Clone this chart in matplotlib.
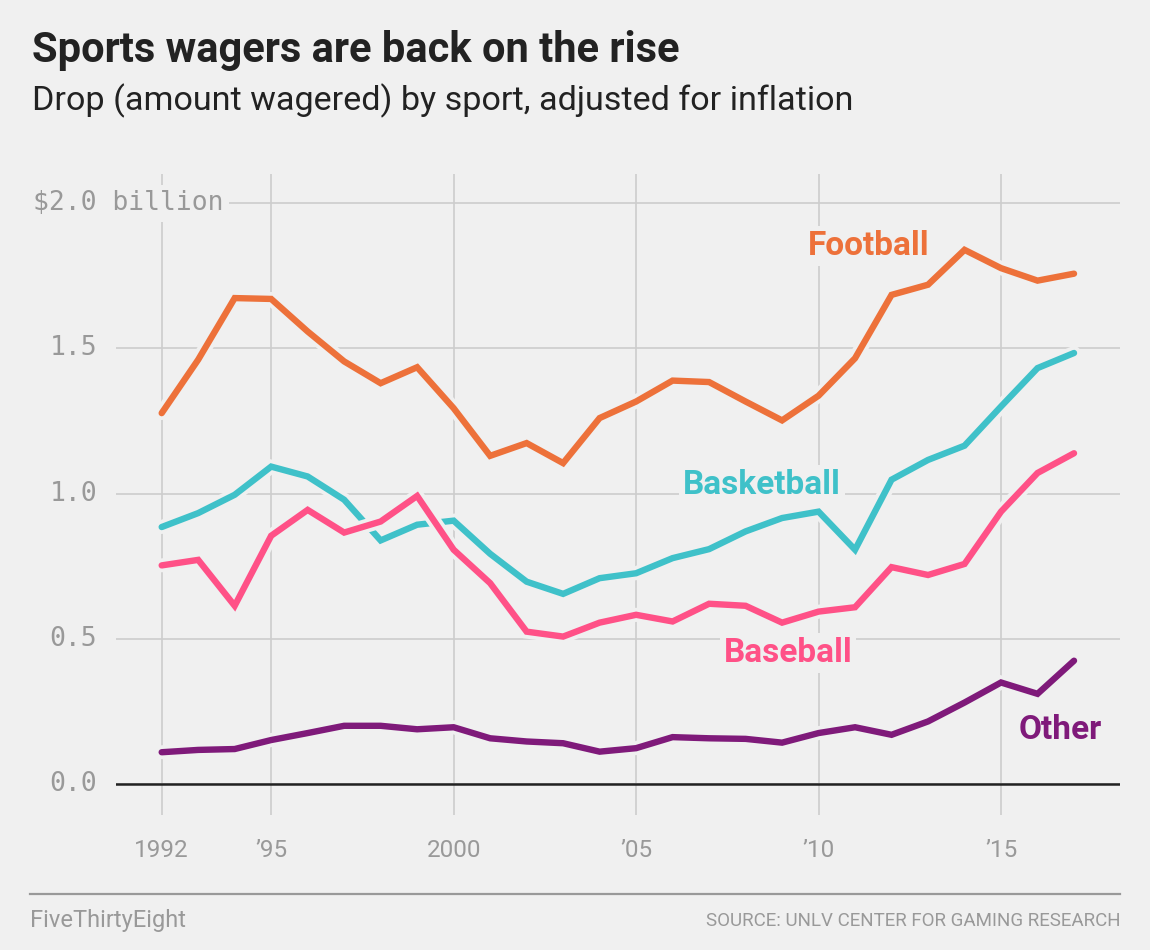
import matplotlib
matplotlib.use('Agg')
import matplotlib.pyplot as plt
import matplotlib.patheffects as pe
from matplotlib import transforms

years = list(range(1992, 2018))
football = [1.277, 1.461, 1.673, 1.670, 1.558, 1.455, 1.380, 1.435, 1.294, 1.130,
            1.174, 1.105, 1.260, 1.317, 1.389, 1.384, 1.317, 1.252, 1.337, 1.466,
            1.684, 1.719, 1.839, 1.776, 1.733, 1.757]
basketball = [0.885, 0.933, 0.996, 1.093, 1.059, 0.979, 0.839, 0.893, 0.907, 0.793,
              0.697, 0.655, 0.709, 0.726, 0.778, 0.809, 0.870, 0.916, 0.938, 0.807,
              1.048, 1.116, 1.165, 1.300, 1.432, 1.484]
baseball = [0.753, 0.772, 0.614, 0.855, 0.944, 0.866, 0.904, 0.992, 0.807, 0.692,
            0.525, 0.508, 0.556, 0.583, 0.560, 0.621, 0.614, 0.556, 0.594, 0.609,
            0.747, 0.720, 0.758, 0.938, 1.071, 1.139]
other = [0.110, 0.118, 0.121, 0.152, 0.176, 0.201, 0.201, 0.189, 0.196, 0.158,
         0.147, 0.141, 0.112, 0.124, 0.162, 0.158, 0.156, 0.143, 0.176, 0.196,
         0.170, 0.216, 0.281, 0.350, 0.311, 0.425]

x_ticks = [1992, 1995, 2000, 2005, 2010, 2015]
x_labels = ['1992', '\u201995', '2000', '\u201905', '\u201910', '\u201915']
y_ticks = [0.0, 0.5, 1.0, 1.5, 2.0]
y_labels = ['0.0', '0.5', '1.0', '1.5', '$2.0 billion']

# series label text, x, y
labels = [('Football', 2011.36, 1.851), ('Basketball', 2008.45, 1.03),
          ('Baseball', 2009.16, 0.452), ('Other', 2016.63, 0.187)]

BG = '#f0f0f0'
colors = {'Football': '#ed713a', 'Basketball': '#3fc1c9',
          'Baseball': '#ff5187', 'Other': '#7f1a7a'}

fig = plt.figure(figsize=(11.5, 9.5), dpi=100, facecolor=BG)
ax = fig.add_axes([116 / 1150, 1 - 815 / 950, 1004 / 1150, 641 / 950])
ax.set_facecolor(BG)
ax.set_xlim(1990.748, 2018.26)
ax.set_ylim(-0.106, 2.1)
for s in ax.spines.values():
    s.set_visible(False)

ax.set_axisbelow(True)
ax.set_xticks(x_ticks)
ax.set_xticklabels(x_labels, fontfamily='Roboto', fontsize=17.5, color='#999999')
ax.set_yticks(y_ticks)
ax.set_yticklabels([])
ax.tick_params(length=0, pad=17)
ax.grid(True, color='#cccccc', lw=1.2)
ax.axhline(0, color='#222222', lw=1.8, zorder=2)

halo = [pe.Stroke(linewidth=10, foreground=BG), pe.Normal()]
for name, vals in [('Other', other), ('Football', football),
                   ('Basketball', basketball), ('Baseball', baseball)]:
    ax.plot(years, vals, color=colors[name], lw=4.6, solid_capstyle='round',
            solid_joinstyle='miter', path_effects=halo, zorder=3)

for name, lx, ly in labels:
    ax.text(lx, ly, name, color=colors[name], fontsize=24, fontweight='bold',
            fontfamily='Roboto', ha='center', va='center', zorder=4,
            bbox=dict(facecolor=BG, edgecolor='none', pad=3))

tr = transforms.blended_transform_factory(fig.transFigure, ax.transData)
for val, lab in zip(y_ticks, y_labels):
    if lab.startswith('$'):
        ax.text(33 / 1150, val, lab, transform=tr, ha='left', va='center',
                fontfamily='DejaVu Sans Mono', fontsize=19, color='#999999',
                zorder=2, bbox=dict(facecolor=BG, edgecolor='none', pad=4))
    else:
        ax.text(97 / 1150, val, lab, transform=tr, ha='right', va='center',
                fontfamily='DejaVu Sans Mono', fontsize=19, color='#999999')

fig.text(32 / 1150, 1 - 62 / 950, 'Sports wagers are back on the rise',
         fontfamily='Roboto', fontweight='bold', fontsize=30, color='#222222',
         va='baseline')
fig.text(32 / 1150, 1 - 110 / 950, 'Drop (amount wagered) by sport, adjusted for inflation',
         fontfamily='Roboto', fontsize=24.6, color='#222222', va='baseline')

fig.add_artist(plt.Line2D([30 / 1150, 1120 / 1150], [1 - 894 / 950] * 2,
                          transform=fig.transFigure, color='#999999', lw=1.6))
fig.text(30 / 1150, 1 - 921 / 950, 'FiveThirtyEight', fontfamily='Roboto',
         fontsize=17, color='#999999', va='center')
fig.text(1120 / 1150, 1 - 921 / 950, 'SOURCE: UNLV CENTER FOR GAMING RESEARCH',
         fontfamily='Roboto', fontsize=13.5, color='#999999', va='center', ha='right')

fig.savefig('out.png', dpi=100, facecolor=BG)
